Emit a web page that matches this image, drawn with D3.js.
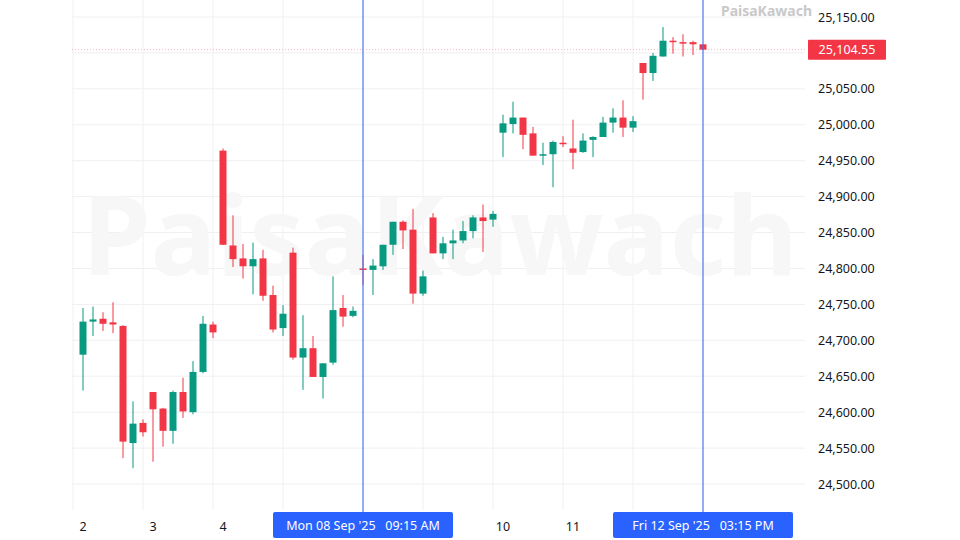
<!DOCTYPE html>
<html><head><meta charset="utf-8">
<script src="https://cdn.jsdelivr.net/npm/d3@7"></script>
<style>body{margin:0;background:#fff}svg{display:block;font-family:"Noto Sans",Roboto,sans-serif}</style>
</head><body>
<svg id="c" width="960" height="540"></svg>
<script>
const opens  = [24680,24726,24730,24725,24720,24557,24585,24628,24605,24574,24628,24600,24656,24722,
24964,24832,24814,24803,24814,24763,24717,24822,24676,24689,24649,24669,24745,24734,
24800,24798,24803,24833,24865,24854,24765,24871,24821,24835,24839,24852,24871,24868,
24989,25001,25010,24988,24957,24959,24975,24967,24962,24979,24983,25003,25010,24996,
25086,25072,25095,25117,25115,25115,25112];
const highs  = [24745,24747,24739,24753,24721,24615,24590,24628,24606,24630,24648,24671,24734,24726,
24967,24874,24834,24836,24826,24776,24749,24829,24735,24706,24668,24789,24763,24747,
24819,24813,24833,24865,24867,24883,24797,24877,24844,24854,24866,24874,24889,24880,
25014,25032,25010,24997,24975,24978,24984,25007,24988,24984,25011,25023,25034,25012,
25086,25100,25136,25122,25126,25117,25112];
const lows   = [24630,24706,24713,24710,24536,24522,24566,24531,24552,24556,24592,24597,24654,24703,
24833,24802,24786,24764,24755,24711,24706,24673,24631,24649,24619,24666,24719,24732,
24777,24763,24798,24819,24827,24751,24762,24821,24813,24813,24835,24842,24823,24858,
24955,24988,24966,24957,24944,24913,24969,24938,24961,24955,24983,24989,24983,24990,
25035,25061,25095,25099,25095,25097,25104];
const closes = [24726,24729,24723,24722,24559,24584,24572,24604,24574,24628,24601,24656,24723,24711,
24833,24813,24803,24813,24762,24715,24737,24676,24689,24649,24668,24742,24733,24741,
24798,24804,24833,24865,24853,24765,24789,24821,24835,24839,24852,24871,24866,24876,
25002,25010,24986,24957,24959,24976,24973,24961,24978,24983,25003,25010,24996,25005,
25072,25096,25117,25115,25114,25112,25104.55];
const dayLabels = [{i:0,t:"2"},{i:7,t:"3"},{i:14,t:"4"},{i:42,t:"10"},{i:49,t:"11"}];
const gridDays = [0,7,14,21,35,42,49,56];
const markers = [{i:28,t:"Mon 08 Sep '25   09:15 AM"},{i:62,t:"Fri 12 Sep '25   03:15 PM"}];
const yTicks = d3.range(24500,25151,50);
const lastPrice = 25104.55;

const G="#089981",R="#f23645",B="#2962ff";
const svg=d3.select("#c");
const x=d3.scaleLinear().domain([0,62]).range([83,703]);
const y=d3.scaleLinear().domain([24500,25150]).range([484,17]);
const fmt=d3.format(",.2f");

svg.append("g").selectAll("line").data(yTicks).join("line")
 .attr("x1",72).attr("x2",805).attr("y1",d=>y(d)).attr("y2",d=>y(d)).attr("stroke","#f0f0f3");
svg.append("g").selectAll("line").data(gridDays).join("line")
 .attr("x1",d=>x(d)-10).attr("x2",d=>x(d)-10).attr("y1",0).attr("y2",510).attr("stroke","#f0f0f3");

svg.append("text").attr("x",440).attr("y",275).attr("text-anchor","middle").attr("font-size",110).attr("font-weight",700)
 .attr("fill","#f7f7f7").text("PaisaKawach");

svg.append("line").attr("x1",72).attr("x2",805).attr("y1",y(lastPrice)).attr("y2",y(lastPrice))
 .attr("stroke","#f5a0a8").attr("stroke-width",0.8).attr("stroke-dasharray","1,2");

const idx=d3.range(opens.length);
const cg=svg.append("g");
cg.selectAll("line").data(idx).join("line")
 .attr("x1",i=>x(i)).attr("x2",i=>x(i)).attr("y1",i=>y(highs[i])).attr("y2",i=>y(lows[i]))
 .attr("stroke",i=>closes[i]>=opens[i]?G:R).attr("stroke-width",1);
cg.selectAll("rect").data(idx).join("rect")
 .attr("x",i=>x(i)-3.5).attr("width",7)
 .attr("y",i=>y(Math.max(opens[i],closes[i])))
 .attr("height",i=>Math.max(1.5,Math.abs(y(opens[i])-y(closes[i]))))
 .attr("fill",i=>closes[i]>=opens[i]?G:R);

svg.append("g").selectAll("line").data(markers).join("line")
 .attr("x1",d=>x(d.i)).attr("x2",d=>x(d.i)).attr("y1",0).attr("y2",512).attr("stroke","#4d74f0").attr("stroke-width",1.2);

svg.append("g").selectAll("text").data(yTicks.filter(d=>Math.abs(y(d)-y(lastPrice))>14)).join("text")
 .attr("x",818).attr("y",d=>y(d)+4.5).attr("font-size",12.5).attr("fill","#131722").text(fmt);
svg.append("rect").attr("x",808).attr("y",y(lastPrice)-10).attr("width",78).attr("height",20).attr("fill",R).attr("rx",1);
svg.append("text").attr("x",847).attr("y",y(lastPrice)+4.5).attr("text-anchor","middle").attr("font-size",12.5).attr("fill","#fff").text(fmt(lastPrice));

svg.append("g").selectAll("text").data(dayLabels).join("text")
 .attr("x",d=>x(d.i)).attr("y",531).attr("text-anchor","middle").attr("font-size",12.5).attr("fill","#131722").text(d=>d.t);
const mg=svg.append("g").selectAll("g").data(markers).join("g");
mg.append("rect").attr("x",d=>x(d.i)-90).attr("y",512).attr("width",180).attr("height",26).attr("fill",B).attr("rx",2);
mg.append("text").attr("x",d=>x(d.i)).attr("y",530).attr("text-anchor","middle").attr("font-size",12.5).attr("fill","#fff")
 .style("white-space","pre").text(d=>d.t);

svg.append("text").attr("x",812).attr("y",16).attr("text-anchor","end").attr("font-size",14).attr("font-weight",700).attr("fill","#c9c9c9").text("PaisaKawach");
</script>
</body></html>
